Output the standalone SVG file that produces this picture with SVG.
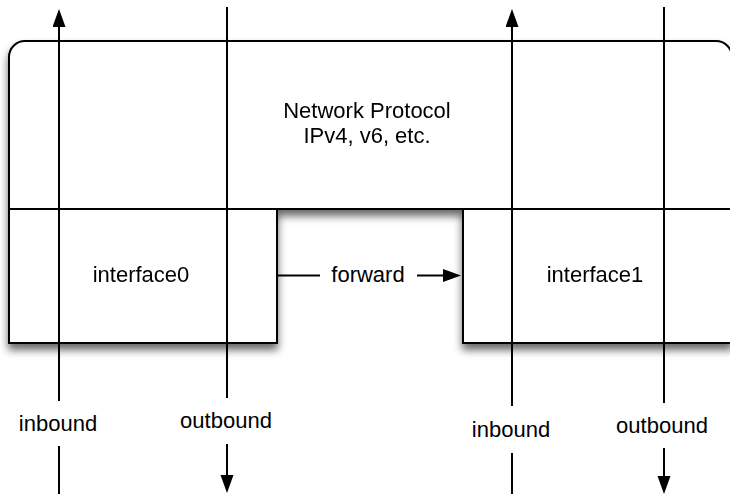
<svg xmlns="http://www.w3.org/2000/svg" width="730" height="494" viewBox="0 0 730 494">
  <style>
    .shape { fill: #ffffff; stroke: #000000; stroke-width: 2; }
    .wire { fill: none; stroke: #000000; stroke-width: 2; }
    .label { font-family: "Liberation Sans", Arial, Helvetica, sans-serif; font-size: 22px; fill: #000000; text-anchor: middle; }
  </style>
  <defs>
    <filter id="shadow" x="-10%" y="-10%" width="120%" height="130%">
      <feGaussianBlur in="SourceAlpha" stdDeviation="4" result="blur"/>
      <feOffset in="blur" dx="0" dy="6" result="off"/>
      <feComponentTransfer in="off" result="soft">
        <feFuncA type="linear" slope="0.6"/>
      </feComponentTransfer>
      <feMerge>
        <feMergeNode in="soft"/>
        <feMergeNode in="SourceGraphic"/>
      </feMerge>
    </filter>
    <marker id="arrow" markerUnits="userSpaceOnUse" markerWidth="18" markerHeight="14" refX="0" refY="6.5" orient="auto">
      <path d="M0,0 L18,6.5 L0,13 Z" fill="#000000"/>
    </marker>
  </defs>

  <!-- protocol layer with the two interfaces beneath it, sharing one shadow -->
  <g filter="url(#shadow)">
    <g id="network-protocol">
      <path class="shape" d="M9,209 L9,57 A16,16 0 0 1 25,41 L716,41 A16,16 0 0 1 732,57 L732,209 Z"/>
      <text class="label" x="367" y="118">Network Protocol</text>
      <text class="label" x="367" y="143">IPv4, v6, etc.</text>
    </g>
    <g id="interface0">
      <rect class="shape" x="9" y="209" width="268" height="134"/>
      <text class="label" x="141" y="282">interface0</text>
    </g>
    <g id="interface1">
      <rect class="shape" x="463" y="209" width="269" height="134"/>
      <text class="label" x="595" y="282">interface1</text>
    </g>
  </g>

  <!-- traffic paths -->
  <g id="connectors">
    <!-- interface0 inbound -->
    <path class="wire" d="M59,401 L59,27" marker-end="url(#arrow)"/>
    <path class="wire" d="M59,446 L59,494"/>
    <text class="label" x="58" y="431">inbound</text>
    <!-- interface0 outbound -->
    <path class="wire" d="M227,7 L227,398"/>
    <path class="wire" d="M227,444 L227,475" marker-end="url(#arrow)"/>
    <text class="label" x="226" y="428">outbound</text>
    <!-- interface1 inbound -->
    <path class="wire" d="M512,406 L512,27" marker-end="url(#arrow)"/>
    <path class="wire" d="M512,453 L512,494"/>
    <text class="label" x="511" y="437">inbound</text>
    <!-- interface1 outbound -->
    <path class="wire" d="M664,7 L664,403"/>
    <path class="wire" d="M664,448 L664,476" marker-end="url(#arrow)"/>
    <text class="label" x="662" y="433">outbound</text>
    <!-- forwarding between interfaces -->
    <path class="wire" d="M278,275.5 L320,275.5"/>
    <path class="wire" d="M417,275.5 L443,275.5" marker-end="url(#arrow)"/>
    <text class="label" x="368" y="282">forward</text>
  </g>
</svg>
